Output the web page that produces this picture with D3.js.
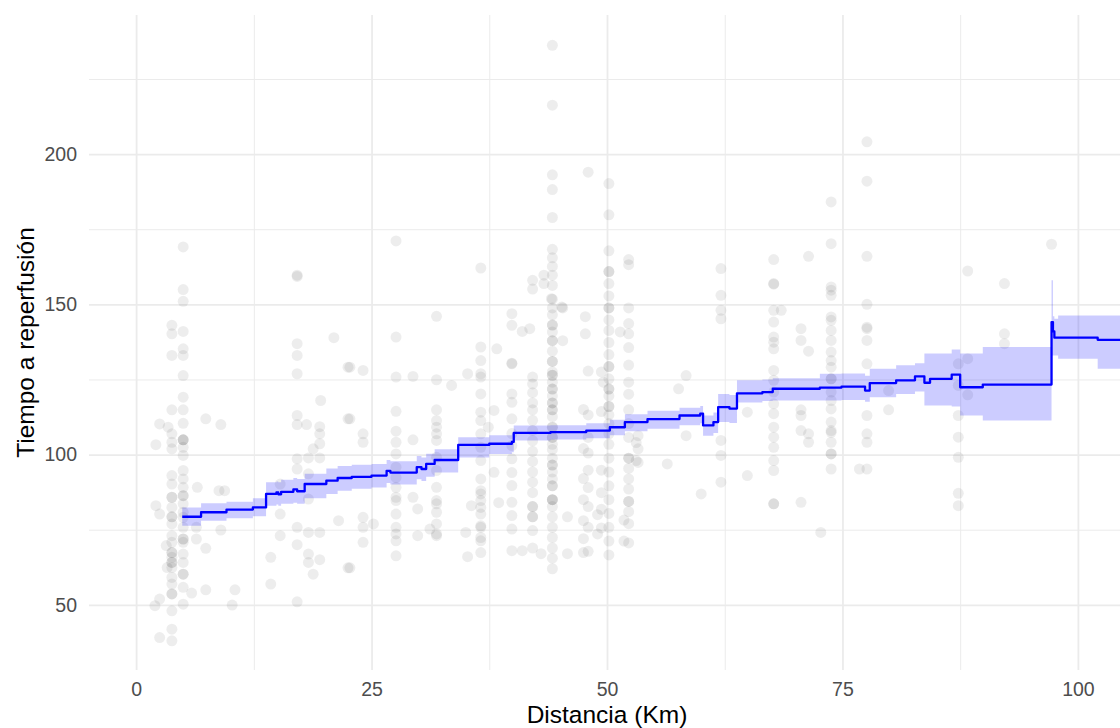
<!DOCTYPE html>
<html>
<head>
<meta charset="UTF-8">
<script src="https://cdn.jsdelivr.net/npm/d3@7"></script>
<style>
  body { margin: 0; background: #fff; }
  text { font-family: "Liberation Sans", Arial, sans-serif; }
</style>
</head>
<body>
<div id="chart"></div>
<script>

// step estimate (x, y) with its confidence band
var stepX  = [4.9, 6.9, 9.6, 12.4, 13.8, 14.9, 15.1, 15.4, 16.7, 17.1, 17.9, 20.2, 21.4, 22.9, 25.0, 26.6, 27.0, 29.8, 30.3, 30.8, 31.7, 34.2, 37.5, 39.9, 40.1, 44.0, 47.8, 50.3, 51.9, 54.3, 57.7, 59.9, 60.2, 61.3, 61.8, 63.0, 63.8, 66.5, 67.6, 72.6, 74.9, 77.4, 77.9, 80.7, 82.7, 83.7, 84.3, 86.6, 87.5, 89.9, 97.2, 97.35, 97.5, 97.9, 102.1, 104.6];
var stepY  = [79.3, 80.8, 81.7, 82.4, 86.9, 87.4, 86.8, 87.6, 88.4, 87.8, 90.2, 91.3, 92.2, 92.6, 93.0, 94.6, 94.0, 95.8, 95.2, 96.9, 98.2, 103.2, 103.6, 104.2, 107.2, 107.5, 108.0, 109.1, 110.8, 111.8, 113.0, 113.6, 109.7, 110.8, 115.8, 115.3, 120.4, 120.8, 121.9, 122.3, 122.6, 121.3, 123.8, 124.7, 126.0, 123.9, 125.2, 126.6, 122.4, 123.3, 144.1, 141.0, 138.9, 138.9, 138.2, 138.2];
var stepLo = [76.3, 78.0, 78.8, 79.5, 83.0, 83.4, 83.0, 83.6, 84.0, 83.6, 85.5, 86.9, 88.0, 88.6, 89.0, 90.5, 90.0, 91.8, 91.2, 92.6, 94.0, 99.0, 100.2, 100.8, 104.7, 105.0, 105.4, 106.4, 107.8, 108.6, 109.8, 110.4, 106.3, 107.2, 110.8, 110.5, 117.3, 117.8, 118.0, 118.0, 118.2, 117.6, 119.1, 120.2, 121.0, 116.3, 116.3, 116.0, 113.0, 111.3, 133.0, 133.0, 133.0, 131.9, 128.6, 128.6];
var stepHi = [82.4, 83.8, 84.3, 85.5, 90.8, 91.0, 90.8, 91.6, 92.2, 91.9, 93.6, 95.4, 96.2, 96.6, 96.9, 98.2, 97.8, 99.5, 99.0, 100.3, 101.8, 105.8, 106.4, 107.0, 109.7, 109.8, 110.4, 111.6, 113.4, 114.6, 115.6, 116.2, 113.0, 114.0, 120.2, 119.8, 124.7, 125.0, 125.4, 126.9, 127.0, 126.2, 128.6, 129.7, 130.4, 133.6, 133.6, 135.0, 133.6, 135.8, 158.0, 146.0, 145.2, 146.3, 146.3, 146.3];

// observations stacked at common distances
var colX = [3.8, 5.0, 17.1, 27.6, 31.9, 36.6, 39.9, 42.1, 44.2, 50.2, 52.3, 62.1, 67.7, 73.8, 77.6, 87.3];
var colY = [
  [143.0, 140.2, 133.0, 114.9, 106.9, 104.1, 101.9, 93.0, 90.2, 85.8, 85.8, 82.4, 79.3, 79.3, 76.9, 73.0, 70.8, 67.4, 67.4, 65.8, 64.1, 64.1, 62.4, 59.1, 56.9, 53.6, 53.6, 48.0, 41.9, 38.0],
  [169.1, 154.9, 151.0, 141.0, 135.2, 133.0, 126.3, 119.1, 114.9, 110.4, 104.9, 104.9, 104.9, 102.4, 99.7, 94.7, 91.9, 89.1, 86.3, 86.3, 83.6, 80.8, 79.1, 75.8, 71.9, 71.9, 70.8, 66.9, 64.1, 60.2, 60.2, 55.8, 50.2],
  [159.7, 159.3, 136.9, 133.0, 126.9, 113.0, 110.0, 98.6, 95.2, 75.8, 70.0, 51.0],
  [171.1, 139.1, 125.8, 114.4, 107.8, 104.1, 100.2, 95.8, 92.4, 89.1, 85.8, 84.7, 80.2, 75.8, 73.6, 71.3, 66.3],
  [146.0, 124.9, 114.9, 111.3, 109.1, 106.9, 104.7, 99.1, 94.7, 89.1, 84.7, 83.6, 80.8, 76.9, 73.6, 73.0],
  [162.1, 135.8, 131.3, 126.9, 125.8, 120.2, 114.1, 111.3, 106.9, 102.4, 98.0, 91.9, 88.0, 86.9, 84.7, 82.4, 80.2, 76.3, 75.8, 72.4, 71.3, 67.4],
  [146.9, 143.0, 130.4, 130.2, 120.2, 117.4, 111.9, 107.0, 103.0, 98.6, 94.0, 89.7, 84.1, 79.7, 75.2, 68.0],
  [158.0, 155.1, 125.8, 123.5, 120.6, 117.2, 114.9, 111.4, 108.0, 104.6, 101.1, 97.7, 94.2, 90.8, 87.3, 82.7, 82.7, 79.3, 79.3, 74.7, 68.9],
  [236.2, 216.3, 193.1, 188.2, 178.9, 168.3, 165.5, 162.6, 159.7, 156.3, 151.7, 148.8, 146.5, 143.1, 143.1, 140.8, 137.9, 137.9, 134.4, 131.0, 131.0, 127.5, 126.4, 126.4, 124.1, 121.8, 121.8, 119.5, 117.2, 117.2, 114.9, 114.9, 112.6, 109.1, 109.1, 105.7, 105.7, 103.4, 101.7, 98.8, 96.5, 96.5, 94.2, 91.9, 89.6, 89.6, 85.0, 85.0, 85.0, 82.7, 79.3, 75.8, 72.4, 68.9, 65.5, 62.0],
  [190.2, 179.8, 167.8, 160.9, 160.9, 156.9, 152.8, 148.8, 148.8, 144.8, 141.3, 137.3, 133.3, 129.3, 129.3, 125.2, 121.8, 121.8, 119.5, 116.0, 116.0, 113.2, 110.3, 106.9, 103.4, 98.8, 94.2, 89.6, 85.0, 80.4, 75.8, 71.2, 66.6],
  [164.9, 163.2, 148.8, 143.6, 140.2, 135.6, 129.8, 124.1, 120.1, 114.9, 110.3, 105.7, 98.8, 98.8, 95.4, 91.9, 88.5, 84.4, 84.4, 81.0, 77.0, 70.6],
  [161.9, 153.0, 148.0, 145.2, 104.7, 99.7, 90.8],
  [164.9, 156.9, 156.7, 148.0, 144.1, 139.1, 137.4, 135.2, 128.0, 124.7, 120.8, 116.9, 113.6, 109.1, 105.8, 102.4, 98.0, 94.7, 83.6, 83.6],
  [184.1, 170.2, 155.8, 154.7, 153.0, 145.8, 144.7, 141.3, 138.0, 134.1, 131.3, 129.1, 125.2, 125.2, 120.8, 118.0, 115.2, 110.8, 108.0, 107.4, 104.1, 100.2, 100.2, 95.2],
  [204.1, 191.0, 166.0, 150.0, 142.4, 141.9, 138.0, 130.2, 113.0, 106.9, 104.1, 95.2],
  [130.2, 123.0, 113.0, 105.8, 99.1, 87.1, 83.0]
];

// remaining single observations
var looseX = [2.1, 2.5, 3.4, 2.1, 2.5, 3.2, 3.3, 2.0, 2.5, 2.5, 7.4, 9.0, 6.5, 8.8, 9.4, 6.4, 9.0, 6.4, 7.4, 5.9, 7.4, 10.5, 10.2,
  15.3, 15.3, 15.3, 14.3, 14.3, 21.0, 22.5, 19.6, 18.1, 19.5, 19.5, 19.5, 19.5, 18.8, 18.3, 18.3, 22.5, 18.3, 18.3, 19.5, 18.3, 18.3, 19.5, 18.8, 21.5, 22.5,
  22.7, 24.1, 22.7, 24.1, 24.1, 29.4, 29.4, 29.9, 29.9, 31.2, 24.1, 24.1, 24.1, 25.2, 22.7,
  29.4, 33.5, 35.2, 38.3, 35.6, 35.0, 35.2, 38.0, 37.4, 38.0, 38.5,
  48.0, 43.3, 43.3, 45.3, 47.7, 47.7, 45.3, 48.0, 49.4, 51.4, 48.0, 49.4, 49.6, 48.0, 48.0, 48.0, 48.0, 48.0, 48.0, 48.0, 49.4, 49.4, 49.4, 49.4, 51.8, 51.8, 45.8, 45.8, 43.0, 41.0,
  47.5, 47.5, 47.5, 47.5, 47.5, 47.5, 47.5, 49.0, 49.0, 53.1, 53.1, 41.0, 41.8, 44.1, 45.2,
  58.4, 57.6, 58.4, 56.4, 53.3, 53.3, 53.3, 60.0, 64.9, 64.9,
  71.4, 68.5, 70.6, 70.6, 71.4, 70.6, 70.6, 70.6, 71.4, 71.4, 70.6, 72.7,
  79.9, 79.9, 76.8, 88.3, 88.3, 88.3, 92.2, 92.2, 92.2, 97.2];
var looseY = [103.3, 110.2, 109.1, 83.0, 80.2, 69.7, 62.4, 49.7, 51.9, 39.1, 111.9, 110.0, 89.1, 88.0, 88.0, 75.8, 74.9, 71.9, 68.8, 53.9, 55.0, 55.0, 49.9,
  90.2, 80.2, 73.0, 65.8, 56.9, 138.9, 129.1, 118.0, 110.0, 109.3, 106.9, 103.6, 98.9, 101.9, 98.9, 93.6, 111.9, 85.2, 74.1, 74.1, 66.9, 64.1, 65.0, 60.2, 78.0, 62.3,
  129.1, 128.0, 111.9, 106.9, 104.1, 104.9, 85.8, 81.9, 73.0, 75.2, 79.1, 75.8, 70.8, 76.9, 62.3,
  126.0, 123.0, 126.9, 135.2, 83.0, 74.1, 66.0, 114.7, 109.1, 94.1, 84.0,
  194.0, 159.7, 156.9, 148.8, 145.9, 140.2, 137.9, 127.8, 127.5, 140.8, 113.2, 114.3, 124.1, 105.7, 100.5, 94.8, 89.0, 82.7, 75.8, 67.8, 94.8, 87.3, 81.8, 75.6, 78.2, 71.2, 79.3, 67.0, 67.0, 68.0,
  115.0, 102.0, 92.0, 85.0, 78.0, 72.0, 67.4, 80.0, 73.6, 104.0, 98.0, 141.0, 141.9, 151.9, 149.1,
  126.3, 121.9, 106.3, 96.9, 106.3, 101.9, 97.4, 86.9, 114.1, 93.0,
  166.0, 148.0, 141.9, 138.0, 134.4, 114.9, 113.0, 108.0, 106.9, 104.1, 84.1, 74.1,
  121.3, 114.9, 95.2, 161.1, 131.9, 119.9, 156.9, 140.2, 136.9, 170.0];

var xMajor = [0, 25, 50, 75, 100];
var xMinor = [12.5, 37.5, 62.5, 87.5];
var yMajor = [50, 100, 150, 200];
var yMinor = [75, 125, 175, 225];

var width = 1120, height = 728;
var panel = {left: 89, right: 1125, top: 15, bottom: 670};

var x = d3.scaleLinear().domain([-5, 105]).range([panel.left, panel.right]);
var y = d3.scaleLinear().domain([28.3, 246.3]).range([panel.bottom, panel.top]);

var svg = d3.select("#chart").append("svg")
    .attr("width", width)
    .attr("height", height);

function grid(g, lineW) {
  g.select(".domain").remove();
  g.selectAll("line").attr("stroke", "#ebebeb").attr("stroke-width", lineW);
}

// grid lines (minor then major)
svg.append("g")
    .attr("transform", "translate(0," + panel.bottom + ")")
    .call(d3.axisBottom(x).tickValues(xMinor).tickSize(-(panel.bottom - panel.top)).tickFormat(""))
    .call(grid, 1);
svg.append("g")
    .attr("transform", "translate(" + panel.left + ",0)")
    .call(d3.axisLeft(y).tickValues(yMinor).tickSize(-(panel.right - panel.left)).tickFormat(""))
    .call(grid, 1);
svg.append("g")
    .attr("transform", "translate(0," + panel.bottom + ")")
    .call(d3.axisBottom(x).tickValues(xMajor).tickSize(-(panel.bottom - panel.top)).tickFormat(""))
    .call(grid, 1.8);
svg.append("g")
    .attr("transform", "translate(" + panel.left + ",0)")
    .call(d3.axisLeft(y).tickValues(yMajor).tickSize(-(panel.right - panel.left)).tickFormat(""))
    .call(grid, 1.8);

// points
var points = [];
colX.forEach(function(cx, i) {
  colY[i].forEach(function(v) { points.push([cx, v]); });
});
looseX.forEach(function(lx, i) { points.push([lx, looseY[i]]); });

svg.append("g").selectAll("circle")
    .data(points)
  .enter().append("circle")
    .attr("cx", function(d) { return x(d[0]); })
    .attr("cy", function(d) { return y(d[1]); })
    .attr("r", 5.5)
    .attr("fill", "#000")
    .attr("fill-opacity", 0.07);

// band + step line
var steps = stepX.map(function(v, i) {
  return {x: v, y: stepY[i], lo: stepLo[i], hi: stepHi[i]};
});

svg.append("path")
    .datum(steps)
    .attr("fill", "#0000ff")
    .attr("fill-opacity", 0.2)
    .attr("d", d3.area()
      .curve(d3.curveStepAfter)
      .x(function(d) { return x(d.x); })
      .y0(function(d) { return y(d.lo); })
      .y1(function(d) { return y(d.hi); }));

svg.append("path")
    .datum(steps)
    .attr("fill", "none")
    .attr("stroke", "#0000ff")
    .attr("stroke-width", 2.3)
    .attr("stroke-linejoin", "round")
    .attr("d", d3.line()
      .curve(d3.curveStepAfter)
      .x(function(d) { return x(d.x); })
      .y(function(d) { return y(d.y); }));

// tick labels
svg.append("g")
    .attr("transform", "translate(0," + panel.bottom + ")")
    .call(d3.axisBottom(x).tickValues(xMajor).tickSize(0).tickPadding(12))
    .call(function(g) {
      g.select(".domain").remove();
      g.selectAll("text").attr("fill", "#4d4d4d").style("font-size", "19.5px")
        .style("font-family", "'Liberation Sans', Arial, sans-serif");
    });

svg.append("g")
    .attr("transform", "translate(" + panel.left + ",0)")
    .call(d3.axisLeft(y).tickValues(yMajor).tickSize(0).tickPadding(12))
    .call(function(g) {
      g.select(".domain").remove();
      g.selectAll("text").attr("fill", "#4d4d4d").style("font-size", "19.5px")
        .style("font-family", "'Liberation Sans', Arial, sans-serif");
    });

// axis titles
svg.append("text")
    .attr("x", (panel.left + panel.right) / 2)
    .attr("y", 723)
    .attr("text-anchor", "middle")
    .style("font-size", "24.5px")
    .attr("fill", "#000")
    .text("Distancia (Km)");

svg.append("text")
    .attr("transform", "translate(33.5," + ((panel.top + panel.bottom) / 2) + ") rotate(-90)")
    .attr("text-anchor", "middle")
    .style("font-size", "24.5px")
    .attr("fill", "#000")
    .text("Tiempo a reperfusión");

</script>
</body>
</html>
